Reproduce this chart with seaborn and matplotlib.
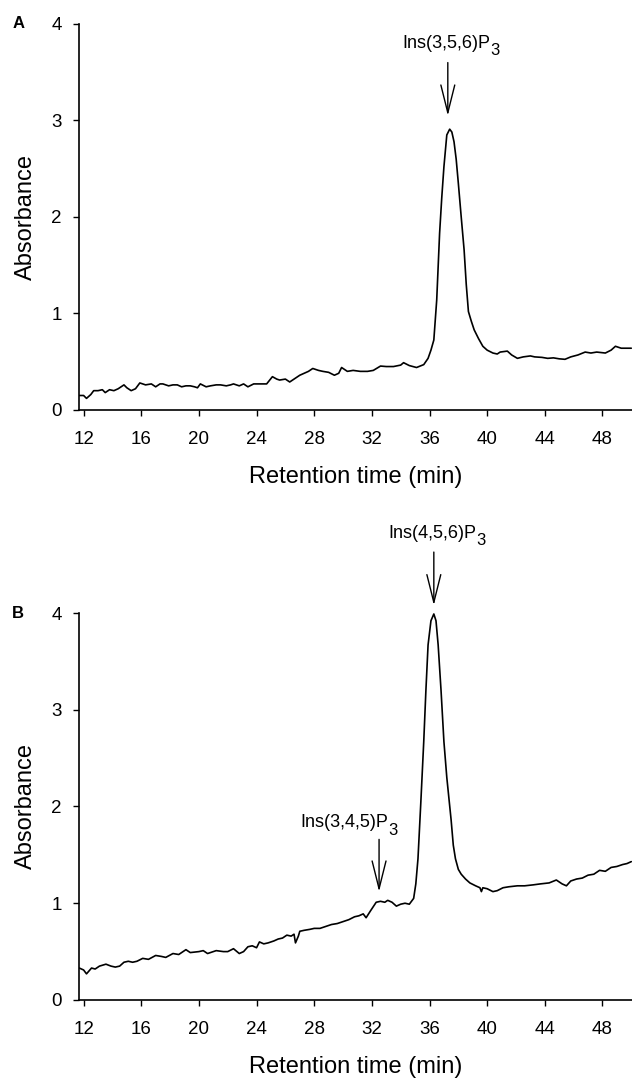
import matplotlib
matplotlib.use("Agg")
import matplotlib.pyplot as plt
import seaborn as sns
import pandas as pd

# ---------------- data ----------------
time_a = [11.7, 12.0, 12.2, 12.5, 12.7, 13.0, 13.3, 13.5, 13.8, 14.1, 14.4, 14.8, 15.0, 15.3, 15.6,
          15.9, 16.3, 16.7, 17.0, 17.3, 17.5, 17.9, 18.2, 18.5, 18.8, 19.1, 19.4, 19.7, 19.9, 20.1,
          20.5, 20.8, 21.2, 21.5, 21.9, 22.2, 22.4, 22.8, 23.1, 23.4, 23.8, 24.2, 24.7, 25.1, 25.4,
          25.6, 26.0, 26.3, 26.7, 27.0, 27.3, 27.6, 27.9, 28.3, 28.6, 29.0, 29.4, 29.7, 29.9, 30.3,
          30.7, 31.2, 31.7, 32.1, 32.6, 33.0, 33.5, 34.0, 34.2, 34.6, 35.1, 35.6, 35.9, 36.1, 36.3,
          36.5, 36.7, 36.85, 37.0, 37.2, 37.4, 37.55, 37.7, 37.85, 38.0, 38.2, 38.4, 38.55, 38.7,
          38.9, 39.1, 39.4, 39.7, 40.0, 40.4, 40.7, 40.9, 41.4, 41.7, 42.1, 42.5, 43.0, 43.3, 43.8,
          44.2, 44.6, 45.0, 45.4, 45.8, 46.3, 46.8, 47.2, 47.6, 48.2, 48.6, 48.9, 49.3, 49.7, 50.0]
absorb_a = [0.15, 0.15, 0.12, 0.16, 0.20, 0.20, 0.21, 0.18, 0.21, 0.20, 0.22, 0.26, 0.23, 0.20, 0.22,
            0.28, 0.26, 0.27, 0.24, 0.27, 0.27, 0.25, 0.26, 0.26, 0.24, 0.25, 0.25, 0.24, 0.23, 0.27,
            0.24, 0.25, 0.26, 0.26, 0.25, 0.26, 0.27, 0.25, 0.27, 0.24, 0.27, 0.27, 0.27, 0.345, 0.32,
            0.31, 0.32, 0.29, 0.33, 0.36, 0.38, 0.40, 0.43, 0.41, 0.40, 0.39, 0.36, 0.38, 0.44, 0.40,
            0.41, 0.40, 0.40, 0.41, 0.455, 0.45, 0.45, 0.465, 0.49, 0.46, 0.44, 0.47, 0.535, 0.62, 0.725,
            1.14, 1.83, 2.20, 2.52, 2.85, 2.91, 2.88, 2.78, 2.60, 2.35, 2.00, 1.66, 1.30, 1.02,
            0.92, 0.83, 0.74, 0.66, 0.62, 0.59, 0.58, 0.60, 0.61, 0.57, 0.535, 0.55, 0.56, 0.55, 0.545,
            0.535, 0.54, 0.53, 0.525, 0.55, 0.57, 0.60, 0.59, 0.60, 0.59, 0.62, 0.66, 0.64, 0.64, 0.64]

time_b = [11.7, 12.0, 12.2, 12.55, 12.8, 13.1, 13.55, 13.9, 14.2, 14.5, 14.8, 15.1, 15.4, 15.7, 16.1,
          16.5, 17.0, 17.4, 17.7, 18.2, 18.6, 19.1, 19.4, 20.0, 20.3, 20.6, 21.2, 21.7, 22.0, 22.4,
          22.8, 23.1, 23.4, 23.7, 24.0, 24.2, 24.5, 24.8, 25.2, 25.5, 25.8, 26.1, 26.4, 26.6, 26.7,
          26.9, 27.0, 27.3, 27.7, 28.0, 28.4, 28.8, 29.2, 29.6, 30.0, 30.4, 30.8, 31.1, 31.4, 31.6,
          31.9, 32.3, 32.6, 32.9, 33.1, 33.4, 33.7, 34.0, 34.3, 34.6, 34.9, 35.05, 35.2, 35.4, 35.6,
          35.75, 35.9, 36.1, 36.3, 36.45, 36.6, 36.8, 37.0, 37.2, 37.5, 37.65, 37.8, 38.0, 38.2, 38.5,
          38.8, 39.2, 39.5, 39.6, 39.7, 40.0, 40.4, 40.7, 41.1, 41.5, 42.1, 42.6, 43.2, 43.7, 44.3,
          44.8, 45.2, 45.5, 45.8, 46.2, 46.6, 47.0, 47.4, 47.8, 48.2, 48.6, 49.0, 49.4, 49.7, 50.0]
absorb_b = [0.33, 0.31, 0.27, 0.33, 0.32, 0.35, 0.37, 0.35, 0.34, 0.35, 0.39, 0.40, 0.39, 0.40, 0.43,
            0.42, 0.46, 0.45, 0.44, 0.48, 0.47, 0.52, 0.49, 0.50, 0.51, 0.48, 0.51, 0.50, 0.50, 0.53,
            0.48, 0.50, 0.55, 0.56, 0.54, 0.60, 0.58, 0.59, 0.61, 0.63, 0.64, 0.67, 0.66, 0.68, 0.59,
            0.66, 0.71, 0.72, 0.73, 0.74, 0.74, 0.76, 0.78, 0.79, 0.81, 0.83, 0.86, 0.87, 0.89, 0.85,
            0.92, 1.01, 1.02, 1.01, 1.03, 1.01, 0.97, 0.99, 1.00, 0.99, 1.05, 1.20, 1.46, 2.05, 2.67,
            3.20, 3.67, 3.92, 3.99, 3.92, 3.67, 3.20, 2.67, 2.30, 1.86, 1.60, 1.46, 1.35, 1.30, 1.25,
            1.21, 1.18, 1.16, 1.12, 1.16, 1.15, 1.12, 1.13, 1.16, 1.17, 1.18, 1.18, 1.19, 1.20, 1.21,
            1.24, 1.20, 1.18, 1.23, 1.25, 1.26, 1.29, 1.30, 1.34, 1.33, 1.37, 1.38, 1.40, 1.41, 1.43]

x_ticks = [12, 16, 20, 24, 28, 32, 36, 40, 44, 48]
y_ticks = [0, 1, 2, 3, 4]
panel_letters = ["A", "B"]
x_label = "Retention time (min)"
y_label = "Absorbance"

# peak annotations: (panel, label, subscript, arrow x, arrow tip y, arrow tail y, text x, text y)
annotations = [
    (0, "Ins(3,5,6)P", "3", 37.27, 3.05, 3.60, 37.18, 3.80),
    (1, "Ins(4,5,6)P", "3", 36.3, 4.08, 4.63, 36.2, 4.82),
    (1, "Ins(3,4,5)P", "3", 32.5, 1.12, 1.66, 30.1, 1.83),
]

# ---------------- styling ----------------
sns.set_theme(style="ticks")
plt.rcParams["font.family"] = ["Liberation Sans", "DejaVu Sans"]
for key in ["text.color", "axes.labelcolor", "xtick.color", "ytick.color", "axes.edgecolor"]:
    plt.rcParams[key] = "black"

fig = plt.figure(figsize=(6.32, 10.8), dpi=100)
ax_a = fig.add_axes([0.125, 0.6204, 0.875, 0.3574])
ax_b = fig.add_axes([0.125, 0.0741, 0.875, 0.3583])
axes = [ax_a, ax_b]

datasets = [pd.DataFrame({"time": time_a, "absorbance": absorb_a}),
            pd.DataFrame({"time": time_b, "absorbance": absorb_b})]

for i, (ax, df) in enumerate(zip(axes, datasets)):
    sns.lineplot(data=df, x="time", y="absorbance", ax=ax, color="black",
                 linewidth=1.2, estimator=None, sort=False)
    ax.set_xlim(11.68, 50.05)
    ax.set_ylim(0, 4)
    ax.set_xticks(x_ticks)
    ax.set_yticks(y_ticks)
    ax.set_xlabel(x_label, fontsize=17, labelpad=12.5)
    ax.set_ylabel(y_label, fontsize=17, labelpad=10.5)
    ax.tick_params(axis="both", labelsize=13.5, width=1.0, length=4.5,
                   color="black", labelcolor="black")
    ax.tick_params(axis="x", pad=11)
    ax.tick_params(axis="y", pad=8)
    for s in ["left", "bottom"]:
        ax.spines[s].set_linewidth(1.2)
        ax.spines[s].set_color("black")
    sns.despine(ax=ax)
    ax.text(-0.11, 1.0, panel_letters[i], transform=ax.transAxes, fontsize=12,
            fontweight="bold", ha="center", va="center")

for panel, label, sub, ax_x, tip_y, tail_y, tx, ty in annotations:
    ax = axes[panel]
    ax.annotate("", xy=(ax_x, tip_y), xytext=(ax_x, tail_y),
                arrowprops=dict(arrowstyle="->,head_length=1.0,head_width=0.25",
                                color="black", lw=1.0, mutation_scale=20,
                                shrinkA=0, shrinkB=0),
                annotation_clip=False)
    main = ax.text(tx, ty, label, fontsize=13, ha="center", va="center", clip_on=False)
    ax.annotate(sub, xy=(1.0, 0.0), xycoords=main, xytext=(0.1, -2.3),
                textcoords="offset points", fontsize=12, ha="left", va="baseline",
                annotation_clip=False)

fig.savefig("out.png", dpi=100)
